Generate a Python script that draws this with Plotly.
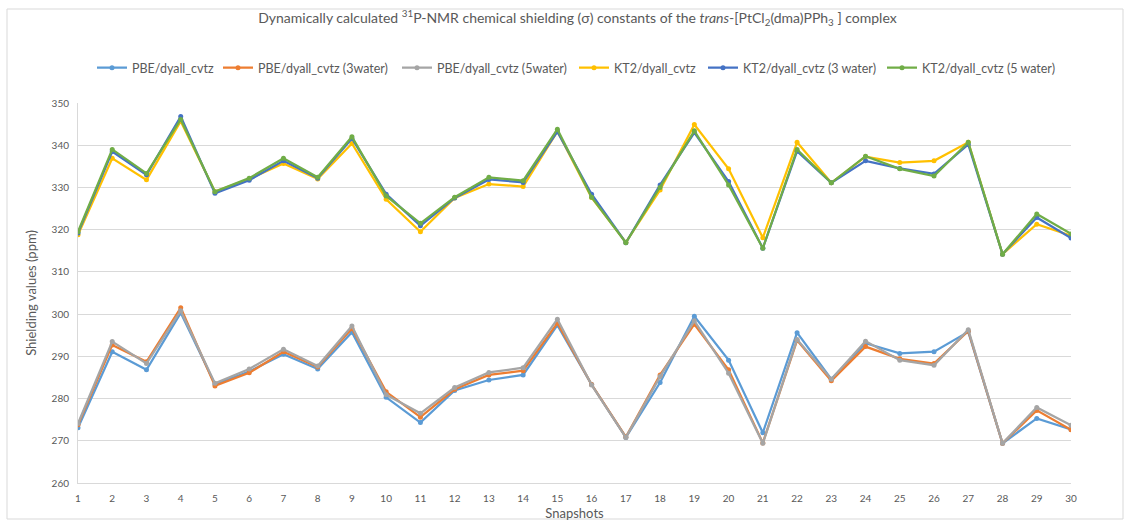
import plotly.graph_objects as go

snapshots = list(range(1, 31))

pbe = [273.1, 291.1, 286.8, 300.3, 283.4, 286.4, 290.5, 287.0, 295.7, 280.3,
       274.3, 281.9, 284.4, 285.6, 297.4, 283.3, 270.8, 283.8, 299.5, 289.1,
       271.9, 295.6, 284.6, 293.1, 290.7, 291.1, 295.8, 269.4, 275.3, 272.7]
pbe_3w = [273.8, 292.7, 288.7, 301.5, 283.0, 286.1, 291.1, 287.5, 296.6, 281.6,
          275.6, 282.2, 285.6, 286.6, 297.9, 283.3, 270.9, 285.6, 297.6, 286.8,
          269.5, 293.8, 284.2, 292.3, 289.4, 288.3, 296.0, 269.4, 277.2, 272.6]
pbe_5w = [274.1, 293.5, 288.3, 300.8, 283.6, 287.0, 291.7, 287.7, 297.2, 280.9,
          276.5, 282.6, 286.2, 287.3, 298.8, 283.2, 270.8, 285.2, 298.4, 286.0,
          269.4, 294.0, 284.6, 293.6, 289.1, 287.9, 296.3, 269.4, 277.9, 273.7]
kt2 = [318.8, 336.9, 331.8, 345.7, 329.0, 332.0, 335.7, 332.0, 340.4, 327.2,
       319.5, 327.5, 330.8, 330.2, 343.3, 327.6, 317.0, 329.4, 344.9, 334.4,
       318.1, 340.7, 331.1, 337.3, 335.9, 336.3, 340.7, 314.2, 321.3, 318.6]
kt2_3w = [319.2, 338.5, 333.0, 346.8, 328.6, 331.7, 336.3, 332.2, 341.6, 328.4,
          320.9, 327.5, 331.9, 331.2, 343.2, 328.4, 316.9, 330.6, 343.0, 331.4,
          315.6, 338.6, 331.1, 336.3, 334.5, 333.2, 340.2, 314.2, 322.9, 318.0]
kt2_5w = [319.5, 339.0, 333.3, 346.1, 329.0, 332.2, 336.9, 332.4, 342.0, 328.0,
          321.5, 327.7, 332.4, 331.6, 343.8, 327.7, 316.9, 330.0, 343.4, 330.6,
          315.6, 339.0, 331.1, 337.4, 334.4, 332.7, 340.7, 314.2, 323.7, 319.0]

names = ["PBE/dyall_cvtz", "PBE/dyall_cvtz (3water)", "PBE/dyall_cvtz (5water)",
         "KT2/dyall_cvtz", "KT2/dyall_cvtz (3 water)", "KT2/dyall_cvtz (5 water)"]
series = [pbe, pbe_3w, pbe_5w, kt2, kt2_3w, kt2_5w]
colors = ["#5B9BD5", "#ED7D31", "#A5A5A5", "#FFC000", "#4472C4", "#70AD47"]

y_ticks = list(range(260, 351, 10))

W, H = 1130, 521
L, R, T, B = 78, 59, 103, 38
PW, PH = W - L - R, H - T - B

def px_x(p):
    return (p - L) / PW

def px_y(p):
    return (H - B - p) / PH

legend_px = [92, 218, 397, 574, 703, 882]
FONT = "Lato, 'Open Sans', sans-serif"
GRAY = "#595959"

fig = go.Figure()
layout_legends = {}
for i, (nm, ys, c) in enumerate(zip(names, series, colors)):
    key = "legend" if i == 0 else f"legend{i+1}"
    fig.add_trace(go.Scatter(
        x=snapshots, y=ys, name=nm, mode="lines+markers",
        line=dict(color=c, width=2.25),
        marker=dict(color=c, size=5),
        legend=key,
    ))
    layout_legends[key] = dict(
        x=px_x(legend_px[i]), y=px_y(68), xanchor="left", yanchor="middle",
        orientation="h", font=dict(family=FONT, size=12.5, color=GRAY),
        bgcolor="rgba(0,0,0,0)", itemwidth=30,
    )

fig.update_layout(
    width=W, height=H,
    margin=dict(l=L, r=R, t=T, b=B, autoexpand=False),
    paper_bgcolor="white", plot_bgcolor="white",
    showlegend=True,
    title=dict(
        text="Dynamically calculated <sup>31</sup>P-NMR chemical shielding (σ) constants of the <i>trans</i>-[PtCl<sub>2</sub>(dma)PPh<sub>3</sub> ] complex",
        x=0.511, xanchor="center", y=1 - 18 / H, yanchor="middle",
        font=dict(family=FONT, size=14, color=GRAY),
    ),
    xaxis=dict(
        range=[1, 30], tickvals=snapshots, ticktext=[str(s) for s in snapshots],
        showgrid=False, showline=True, linecolor="#D9D9D9", linewidth=1,
        zeroline=False, ticks="", ticklabelstandoff=6, automargin=False,
        tickfont=dict(family=FONT, size=10, color=GRAY),
        title=dict(text="Snapshots", font=dict(family=FONT, size=13, color=GRAY), standoff=6),
    ),
    yaxis=dict(
        range=[260, 350], tickvals=y_ticks,
        showgrid=True, gridcolor="#D9D9D9", gridwidth=1,
        showline=True, linecolor="#D9D9D9", linewidth=1,
        zeroline=False, ticks="", ticklabelstandoff=6, automargin=False,
        tickfont=dict(family=FONT, size=10, color=GRAY),
        title=dict(text="Shielding values (ppm)", font=dict(family=FONT, size=13, color=GRAY), standoff=12),
    ),
    **layout_legends,
)

fig.add_shape(type="rect", xref="paper", yref="paper",
              x0=px_x(7), x1=px_x(1123), y0=px_y(519), y1=px_y(9),
              line=dict(color="#D9D9D9", width=1), fillcolor="rgba(0,0,0,0)", layer="below")

fig.write_html("out.html")
